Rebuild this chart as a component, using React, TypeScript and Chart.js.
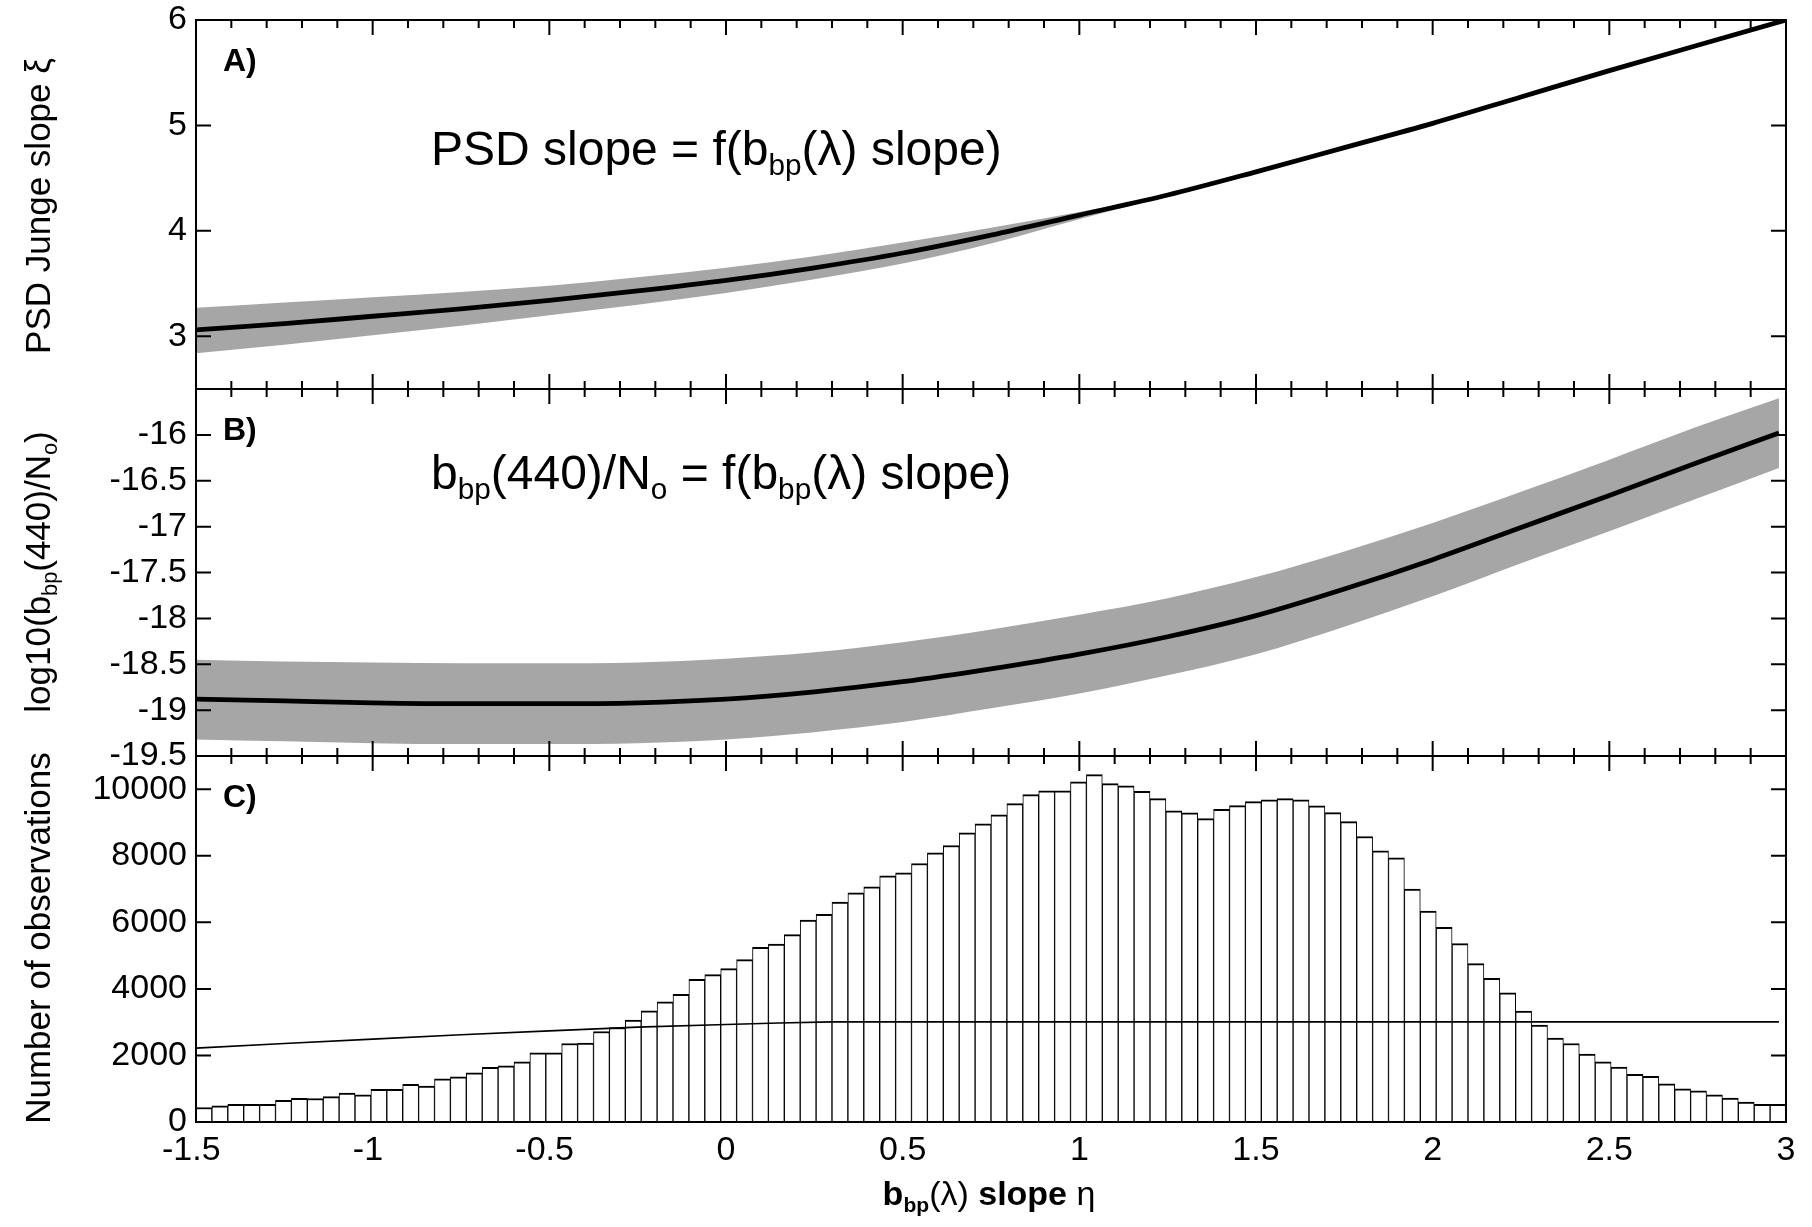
import React, { useEffect, useRef } from 'react';
import { Chart, registerables } from 'chart.js';

Chart.register(...registerables);

// ---------------- data ----------------
// Panel A: PSD Junge slope xi versus bbp slope eta
const ETA_A = [-1.5, -1.25, -1, -0.75, -0.5, -0.25, 0, 0.25, 0.5, 0.75, 1, 1.25, 1.5, 1.75, 2, 2.25, 2.5, 2.75, 3];
const XI_MEAN = [3.06, 3.12, 3.19, 3.26, 3.34, 3.43, 3.53, 3.65, 3.79, 3.96, 4.15, 4.34, 4.56, 4.79, 5.02, 5.27, 5.52, 5.76, 6.0];
const XI_UPPER = [3.27, 3.32, 3.37, 3.42, 3.48, 3.56, 3.65, 3.76, 3.89, 4.03, 4.18, 4.35, 4.56, 4.79, 5.02, 5.27, 5.52, 5.76, 6.0];
const XI_LOWER = [2.84, 2.92, 3.01, 3.1, 3.2, 3.3, 3.41, 3.54, 3.69, 3.88, 4.11, 4.33, 4.56, 4.79, 5.02, 5.27, 5.52, 5.76, 6.0];

// Panel B: log10(bbp(440)/No) versus eta
const ETA_B = [-1.5, -1.25, -1, -0.75, -0.5, -0.25, 0, 0.25, 0.5, 0.75, 1, 1.25, 1.5, 1.75, 2, 2.25, 2.5, 2.75, 2.98];
const LOGB_MEAN = [-18.88, -18.9, -18.92, -18.93, -18.93, -18.92, -18.88, -18.8, -18.69, -18.55, -18.39, -18.2, -17.97, -17.68, -17.36, -17.01, -16.66, -16.3, -15.98];
const LOGB_UPPER = [-18.45, -18.47, -18.48, -18.49, -18.49, -18.48, -18.44, -18.37, -18.26, -18.12, -17.96, -17.78, -17.55, -17.27, -16.96, -16.62, -16.27, -15.91, -15.6];
const LOGB_LOWER = [-19.32, -19.34, -19.36, -19.37, -19.37, -19.36, -19.32, -19.24, -19.13, -18.98, -18.82, -18.62, -18.39, -18.09, -17.76, -17.4, -17.05, -16.69, -16.36];

// Panel C: histogram of eta (100 bins from -1.5 to 3)
const HIST_X0 = -1.5;
const HIST_BIN = 0.045;
const HIST_COUNTS = [
  435, 485, 530, 530, 530, 655, 710, 705, 765, 870, 815, 980, 980, 1135,
  1080, 1300, 1360, 1480, 1640, 1690, 1810, 2080, 2080, 2360, 2370, 2720,
  2840, 3060, 3340, 3610, 3840, 4290, 4430, 4610, 4880, 5250, 5350, 5630, 6070, 6240,
  6610, 6890, 7070, 7400, 7490, 7770, 8090, 8310, 8690, 8960, 9230, 9570, 9840, 9950,
  9950, 10220, 10440, 10170, 10100, 9940, 9720, 9350, 9290, 9120,
  9400, 9510, 9630, 9680, 9720, 9680, 9500, 9300, 9030, 8580, 8150, 7940, 7000, 6340,
  5850, 5360, 4760, 4320, 3880, 3330, 2910, 2520, 2360, 2040, 1810, 1650, 1430, 1370,
  1150, 1000, 940, 820, 720, 600, 530, 530,
];
const HIST_LINE_X = [-1.5, -1.25, -1, -0.75, -0.5, -0.25, 0, 0.15, 0.3, 2.98];
const HIST_LINE_Y = [2220, 2360, 2490, 2620, 2740, 2850, 2930, 2975, 3010, 3010];

// ticks
const X_TICKS = [-1.5, -1, -0.5, 0, 0.5, 1, 1.5, 2, 2.5, 3];
const Y_TICKS_A = [3, 4, 5, 6];
const Y_TICKS_B = [-16, -16.5, -17, -17.5, -18, -18.5, -19, -19.5];
const Y_TICKS_C = [0, 2000, 4000, 6000, 8000, 10000];

// ---------------- styling / layout ----------------
const FONT = "'Liberation Sans', Arial, Helvetica, sans-serif";
const TICK_SIZE = 34;
const TITLE_SIZE = 35;
const GRAY = '#a6a6a6';
const W = 1812;
const PLOT_LEFT = 196;
const PLOT_RIGHT = 1786;
const SUB_SCALE = 0.62;
const SUB_DROP = 0.2;

type Seg = { t: string; sub?: boolean; bold?: boolean };

function segFont(s: Seg, size: number) {
  const sz = s.sub ? size * SUB_SCALE : size;
  return `${s.bold ? 'bold ' : ''}${sz}px ${FONT}`;
}
function richWidth(ctx: CanvasRenderingContext2D, segs: Seg[], size: number) {
  let w = 0;
  for (const s of segs) {
    ctx.font = segFont(s, size);
    w += ctx.measureText(s.t).width;
  }
  return w;
}
function drawRich(ctx: CanvasRenderingContext2D, segs: Seg[], x: number, y: number, size: number, align: 'left' | 'center') {
  const w = richWidth(ctx, segs, size);
  let cx = align === 'center' ? x - w / 2 : x;
  ctx.textAlign = 'left';
  ctx.textBaseline = 'alphabetic';
  ctx.fillStyle = '#000';
  for (const s of segs) {
    ctx.font = segFont(s, size);
    ctx.fillText(s.t, cx, s.sub ? y + size * SUB_DROP : y);
    cx += ctx.measureText(s.t).width;
  }
}

function xTicks(chart: any, side: 'top' | 'bottom') {
  const { ctx, chartArea: a, scales } = chart;
  const x = scales.x;
  ctx.save();
  ctx.strokeStyle = '#000';
  ctx.lineWidth = 2;
  ctx.beginPath();
  for (let k = 0; k <= 45; k++) {
    const v = -1.5 + k * 0.1;
    const len = k % 5 === 0 ? 15 : 8;
    const px = x.getPixelForValue(v);
    if (side === 'top') {
      ctx.moveTo(px, a.top);
      ctx.lineTo(px, a.top + len);
    } else {
      ctx.moveTo(px, a.bottom);
      ctx.lineTo(px, a.bottom - len);
    }
  }
  ctx.stroke();
  ctx.restore();
}

const panelPlugin = {
  id: 'panel',
  beforeDatasetsDraw(chart: any, _args: any, o: any) {
    if (o.bottomBehind) xTicks(chart, 'bottom');
  },
  afterDatasetsDraw(chart: any, _args: any, o: any) {
    const { ctx, chartArea: a, scales } = chart;
    xTicks(chart, 'top');
    if (!o.bottomBehind) xTicks(chart, 'bottom');
    ctx.save();
    ctx.strokeStyle = '#000';
    ctx.lineWidth = 2;
    ctx.beginPath();
    for (const v of o.yTicks as number[]) {
      const py = scales.y.getPixelForValue(v);
      ctx.moveTo(a.left, py);
      ctx.lineTo(a.left + 15, py);
      ctx.moveTo(a.right, py);
      ctx.lineTo(a.right - 15, py);
    }
    ctx.stroke();
    ctx.strokeRect(a.left, a.top, a.right - a.left, a.bottom - a.top);
    ctx.restore();

    ctx.save();
    // panel letter
    ctx.fillStyle = '#000';
    ctx.font = `bold 32px ${FONT}`;
    ctx.textAlign = 'left';
    ctx.textBaseline = 'alphabetic';
    ctx.fillText(o.letter, o.letterPos[0], o.letterPos[1]);
    // annotation
    if (o.note) drawRich(ctx, o.note, o.notePos[0], o.notePos[1], 48, 'left');
    // y title (rotated)
    ctx.save();
    ctx.translate(o.yTitlePos[0], o.yTitlePos[1]);
    ctx.rotate(-Math.PI / 2);
    drawRich(ctx, o.yTitle, 0, 0, TITLE_SIZE, 'center');
    ctx.restore();
    // x title
    if (o.xTitle) drawRich(ctx, o.xTitle, o.xTitlePos[0], o.xTitlePos[1], 34, 'center');
    ctx.restore();
  },
};

function pts(xs: number[], ys: number[]) {
  return xs.map((x, i) => ({ x, y: ys[i] }));
}

function yScale(min: number, max: number, ticks: number[]) {
  return {
    type: 'linear',
    min,
    max,
    afterBuildTicks: (s: any) => {
      s.ticks = ticks.map((v) => ({ value: v }));
    },
    afterFit: (s: any) => {
      s.width = PLOT_LEFT;
      s.paddingTop = 0;
      s.paddingBottom = 0;
    },
    grid: { display: false, drawTicks: false },
    border: { display: false },
    ticks: {
      color: '#000',
      font: { family: FONT, size: TICK_SIZE },
      padding: 9,
      callback: (v: any) => String(v),
    },
  };
}

function bandDatasets(xs: number[], mean: number[], up: number[], lo: number[]) {
  return [
    { data: pts(xs, mean), borderColor: '#000', borderWidth: 4.8, pointRadius: 0, fill: false, cubicInterpolationMode: 'monotone' },
    { data: pts(xs, up), borderColor: 'rgba(0,0,0,0)', borderWidth: 0, pointRadius: 0, backgroundColor: GRAY, fill: '+1', cubicInterpolationMode: 'monotone' },
    { data: pts(xs, lo), borderColor: 'rgba(0,0,0,0)', borderWidth: 0, pointRadius: 0, fill: false, cubicInterpolationMode: 'monotone' },
  ];
}

const baseOptions = (padding: any) => ({
  responsive: false,
  animation: false,
  devicePixelRatio: 1,
  events: [],
  layout: { padding },
});

export default function App() {
  const refA = useRef<HTMLCanvasElement>(null);
  const refB = useRef<HTMLCanvasElement>(null);
  const refC = useRef<HTMLCanvasElement>(null);

  useEffect(() => {
    const charts: Chart[] = [];
    // ---- panel A: canvas top 0, height 400, plot 20..389
    const topA = 0;
    charts.push(
      new Chart(refA.current as HTMLCanvasElement, {
        type: 'line',
        data: { datasets: bandDatasets(ETA_A, XI_MEAN, XI_UPPER, XI_LOWER) as any },
        options: {
          ...baseOptions({ left: 0, right: W - PLOT_RIGHT, top: 20 - topA, bottom: 400 - (389 - topA) }),
          plugins: {
            legend: { display: false },
            tooltip: { enabled: false },
            panel: {
              yTicks: Y_TICKS_A,
              letter: 'A)',
              letterPos: [223, 71 - topA],
              note: [{ t: 'PSD slope = f(b' }, { t: 'bp', sub: true }, { t: '(λ) slope)' }],
              notePos: [431, 165 - topA],
              yTitle: [{ t: 'PSD Junge slope ξ' }],
              yTitlePos: [50, 206 - topA],
            },
          } as any,
          scales: {
            x: { type: 'linear', min: -1.5, max: 3, display: false },
            y: yScale(2.5, 6, Y_TICKS_A) as any,
          },
        } as any,
        plugins: [panelPlugin],
      })
    );

    // ---- panel B: canvas top 370, height 400, plot 389..756
    const topB = 370;
    charts.push(
      new Chart(refB.current as HTMLCanvasElement, {
        type: 'line',
        data: { datasets: bandDatasets(ETA_B, LOGB_MEAN, LOGB_UPPER, LOGB_LOWER) as any },
        options: {
          ...baseOptions({ left: 0, right: W - PLOT_RIGHT, top: 389 - topB, bottom: 400 - (756 - topB) }),
          plugins: {
            legend: { display: false },
            tooltip: { enabled: false },
            panel: {
              yTicks: Y_TICKS_B,
              letter: 'B)',
              letterPos: [223, 440 - topB],
              note: [
                { t: 'b' }, { t: 'bp', sub: true }, { t: '(440)/N' }, { t: 'o', sub: true },
                { t: ' = f(b' }, { t: 'bp', sub: true }, { t: '(λ) slope)' },
              ],
              notePos: [431, 489 - topB],
              yTitle: [{ t: 'log10(b' }, { t: 'bp', sub: true }, { t: '(440)/N' }, { t: 'o', sub: true }, { t: ')' }],
              yTitlePos: [50, 572 - topB],
            },
          } as any,
          scales: {
            x: { type: 'linear', min: -1.5, max: 3, display: false },
            y: yScale(-19.5, -15.5, Y_TICKS_B) as any,
          },
        } as any,
        plugins: [panelPlugin],
      })
    );

    // ---- panel C: canvas top 740, height 487, plot 756..1122
    const topC = 740;
    const histPts = HIST_COUNTS.map((c, i) => ({ x: HIST_X0 + HIST_BIN * (i + 0.5), y: c }));
    const xAxisH = 60;
    charts.push(
      new Chart(refC.current as HTMLCanvasElement, {
        type: 'bar',
        data: {
          datasets: [
            {
              type: 'line',
              data: pts(HIST_LINE_X, HIST_LINE_Y),
              borderColor: '#000',
              borderWidth: 1.6,
              pointRadius: 0,
              fill: false,
              tension: 0,
            },
            {
              type: 'bar',
              data: histPts,
              backgroundColor: '#fff',
              borderColor: '#000',
              borderWidth: { top: 2, left: 1, right: 1, bottom: 0 },
              borderSkipped: 'start',
              barPercentage: 1,
              categoryPercentage: 1,
            },
          ] as any,
        },
        options: {
          ...baseOptions({ left: 0, right: W - PLOT_RIGHT, top: 756 - topC, bottom: 487 - (1122 - topC) - xAxisH }),
          plugins: {
            legend: { display: false },
            tooltip: { enabled: false },
            panel: {
              yTicks: Y_TICKS_C,
              bottomBehind: true,
              letter: 'C)',
              letterPos: [223, 807 - topC],
              yTitle: [{ t: 'Number of observations' }],
              yTitlePos: [50, 938 - topC],
              xTitle: [
                { t: 'b', bold: true }, { t: 'bp', sub: true, bold: true }, { t: '(λ)' },
                { t: ' slope ', bold: true }, { t: 'η' },
              ],
              xTitlePos: [989, 1205 - topC],
            },
          } as any,
          scales: {
            x: {
              type: 'linear',
              min: -1.5,
              max: 3,
              offset: false,
              afterBuildTicks: (s: any) => {
                s.ticks = X_TICKS.map((v) => ({ value: v }));
              },
              afterFit: (s: any) => {
                s.height = xAxisH;
                s.paddingLeft = 0;
                s.paddingRight = 0;
              },
              grid: { display: false, drawTicks: false },
              border: { display: false },
              ticks: {
                color: '#000',
                font: { family: FONT, size: TICK_SIZE },
                padding: 8,
                maxRotation: 0,
                autoSkip: false,
                callback: (v: any) => (v < 0 ? `${v}\u2008` : `${v}`),
              },
            },
            y: yScale(0, 11000, Y_TICKS_C) as any,
          },
        } as any,
        plugins: [panelPlugin],
      })
    );

    return () => charts.forEach((c) => c.destroy());
  }, []);

  const cv = (top: number, h: number): React.CSSProperties => ({
    position: 'absolute',
    left: 0,
    top,
    width: W,
    height: h,
  });

  return (
    <div style={{ position: 'absolute', left: 0, top: 0, width: W, height: 1227, background: '#fff', overflow: 'hidden' }}>
      <canvas ref={refA} width={W} height={400} style={cv(0, 400)} />
      <canvas ref={refB} width={W} height={400} style={cv(370, 400)} />
      <canvas ref={refC} width={W} height={487} style={cv(740, 487)} />
    </div>
  );
}
